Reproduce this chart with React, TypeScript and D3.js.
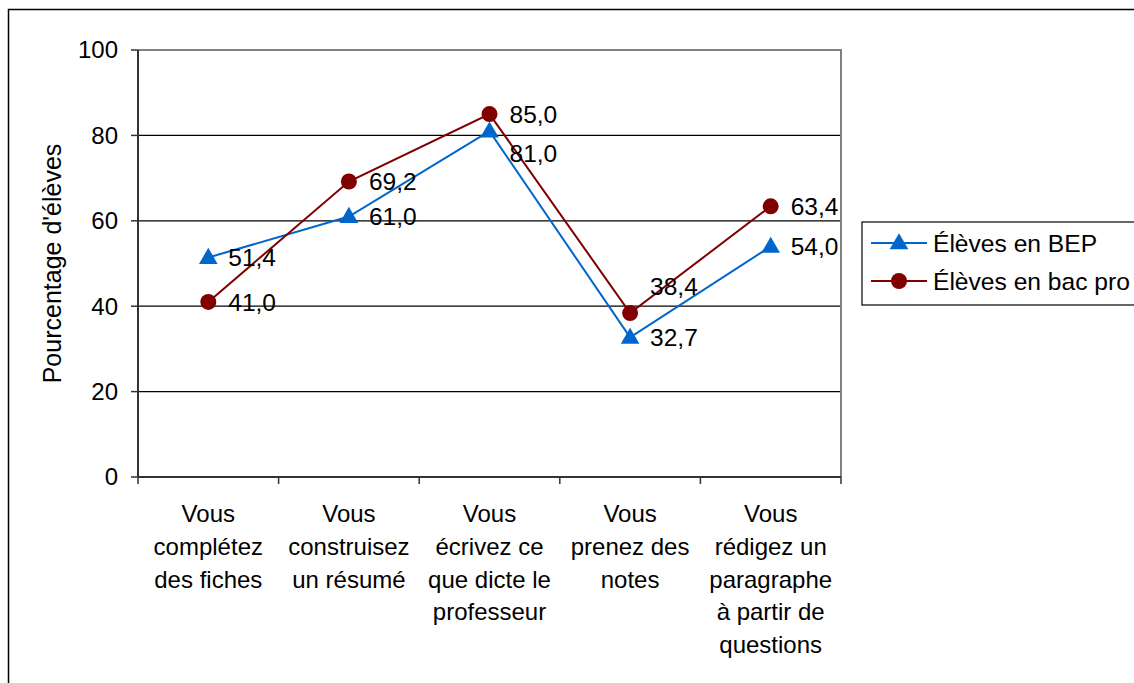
import React from "react";
import * as d3 from "d3";

// chart values
const categories = [
  ["Vous", "complétez", "des fiches"],
  ["Vous", "construisez", "un résumé"],
  ["Vous", "écrivez ce", "que dicte le", "professeur"],
  ["Vous", "prenez des", "notes"],
  ["Vous", "rédigez un", "paragraphe", "à partir de", "questions"],
];
const bepValues = [51.4, 61.0, 81.0, 32.7, 54.0];
const bacValues = [41.0, 69.2, 85.0, 38.4, 63.4];
const yTicks = [0, 20, 40, 60, 80, 100];
const seriesNames = ["Élèves en BEP", "Élèves en bac pro"];
// label nudges (px) where the original moved labels by hand
const bepLabelDy = [0, 0, 22, 0, 0];
const bacLabelDy = [0, 0, 0, -27, 0];

const W = 1134;
const H = 683;
const FONT = "'Liberation Sans', Arial, sans-serif";
const FS = 24;
const BLUE = "#0066cc";
const RED = "#800000";

const fmt = (v: number) => v.toFixed(1).replace(".", ",");

export default function App() {
  const left = 138,
    right = 841,
    top = 50,
    bottom = 477;

  const x = d3
    .scaleBand<number>()
    .domain(d3.range(categories.length))
    .range([left, right]);
  const y = d3.scaleLinear().domain([0, 100]).range([bottom, top]);
  const cx = (i: number) => (x(i) as number) + x.bandwidth() / 2;

  const line = d3
    .line<number>()
    .x((_, i) => cx(i))
    .y((d) => y(d));

  const tri = d3.symbol(d3.symbolTriangle, 150)();

  const series = [
    { name: seriesNames[0], values: bepValues, color: BLUE, shape: "tri", dy: bepLabelDy },
    { name: seriesNames[1], values: bacValues, color: RED, shape: "circle", dy: bacLabelDy },
  ];

  const marker = (shape: string, color: string, px: number, py: number, key?: string) =>
    shape === "tri" ? (
      <path key={key} d={tri as string} transform={`translate(${px},${py + 1})`} fill={color} />
    ) : (
      <circle key={key} cx={px} cy={py} r={8} fill={color} />
    );

  return (
    <svg
      width={W}
      height={H}
      style={{ position: "absolute", left: 0, top: 0, background: "#fff" }}
      fontFamily={FONT}
      fontSize={FS}
    >
      {/* outer chart border */}
      <rect x={8.5} y={9.5} width={W + 10} height={H + 10} fill="none" stroke="#000" strokeWidth={1.5} />

      {/* gridlines */}
      {yTicks.slice(1, -1).map((t) => (
        <line key={t} x1={left} x2={right} y1={y(t)} y2={y(t)} stroke="#000" strokeWidth={1.2} />
      ))}
      {/* plot area border top/right */}
      <path d={`M${left},${top}H${right}V${bottom}`} fill="none" stroke="#808080" strokeWidth={2} />

      {/* y axis */}
      <line x1={left} x2={left} y1={top} y2={bottom} stroke="#333" strokeWidth={2} />
      {yTicks.map((t) => (
        <g key={t}>
          <line x1={left - 7} x2={left} y1={y(t)} y2={y(t)} stroke="#333" strokeWidth={1.5} />
          <text x={118} y={y(t)} dy="0.35em" textAnchor="end" fill="#000">
            {t}
          </text>
        </g>
      ))}
      <text
        transform={`translate(61,${(top + bottom) / 2 + 0}) rotate(-90)`}
        textAnchor="middle"
        fontSize={25}
        fill="#000"
      >
        Pourcentage d'élèves
      </text>

      {/* x axis */}
      <line x1={left} x2={right} y1={bottom} y2={bottom} stroke="#333" strokeWidth={2} />
      {d3.range(categories.length + 1).map((i) => {
        const px = i < categories.length ? (x(i) as number) : right;
        return <line key={i} x1={px} x2={px} y1={bottom} y2={bottom + 7} stroke="#333" strokeWidth={1.5} />;
      })}
      {categories.map((lines, i) => (
        <text key={i} x={cx(i)} y={522} textAnchor="middle" fill="#000">
          {lines.map((l, j) => (
            <tspan key={j} x={cx(i)} dy={j === 0 ? 0 : 32.8}>
              {l}
            </tspan>
          ))}
        </text>
      ))}

      {/* series */}
      {series.map((s) => (
        <g key={s.name}>
          <path d={line(s.values) as string} fill="none" stroke={s.color} strokeWidth={2} />
          {s.values.map((v, i) => marker(s.shape, s.color, cx(i), y(v), `m${i}`))}
        </g>
      ))}
      {series.map((s) =>
        s.values.map((v, i) => (
          <text key={s.name + i} x={cx(i) + 20} y={y(v) + s.dy[i]} dy="0.35em" fontSize={24.5} fill="#000">
            {fmt(v)}
          </text>
        ))
      )}

      {/* legend */}
      <rect x={862} y={222} width={300} height={83} fill="#fff" stroke="#000" strokeWidth={1.2} />
      {series.map((s, i) => {
        const ly = 243 + i * 38;
        return (
          <g key={s.name}>
            <line x1={871} x2={927} y1={ly} y2={ly} stroke={s.color} strokeWidth={2} />
            {marker(s.shape, s.color, 899, ly)}
            <text x={933} y={ly} dy="0.35em" fontSize={24.6} fill="#000">
              {s.name}
            </text>
          </g>
        );
      })}
    </svg>
  );
}
